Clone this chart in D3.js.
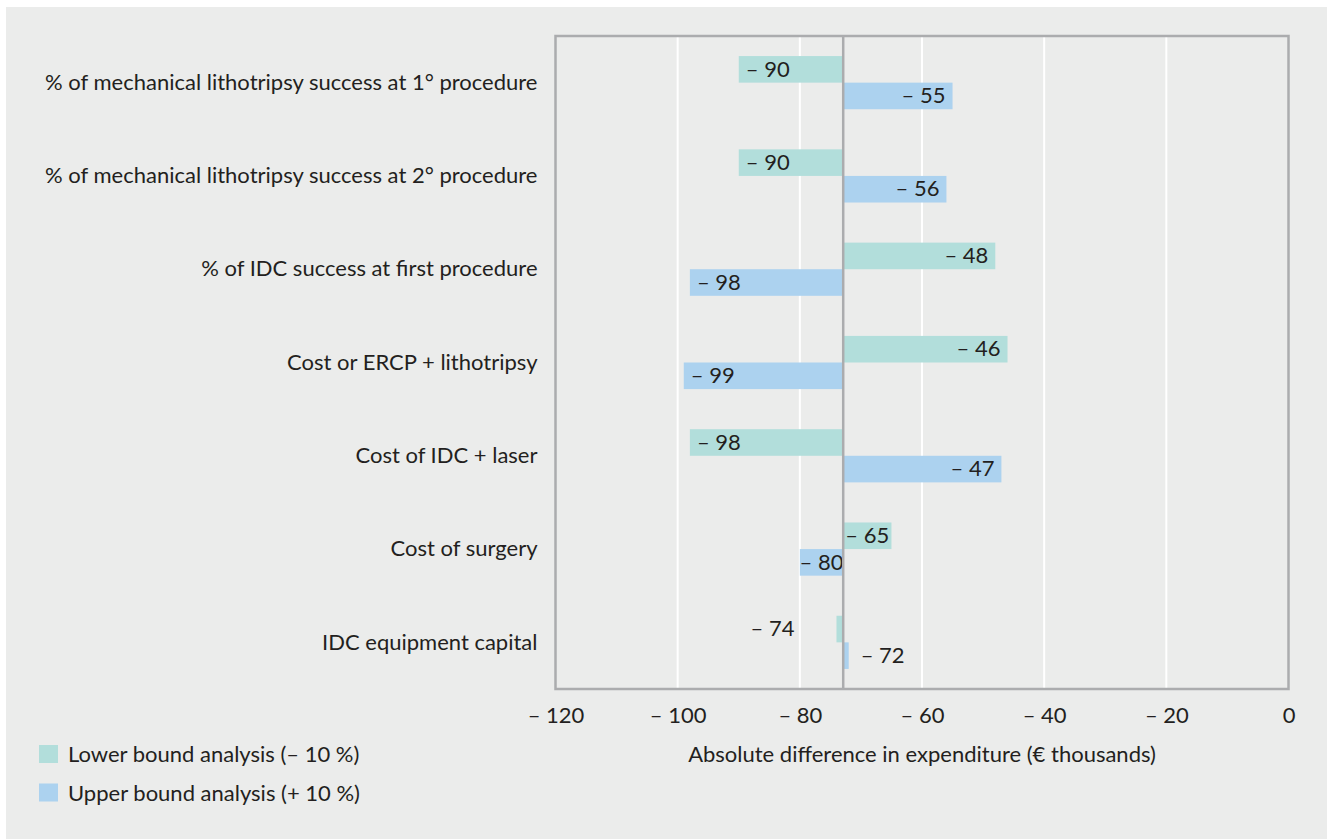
<!DOCTYPE html>
<html>
<head>
<meta charset="utf-8">
<script src="https://cdn.jsdelivr.net/npm/d3@7"></script>
<style>
  html, body { margin: 0; padding: 0; background: #ffffff; }
  svg { display: block; }
  text { font-family: "Lato", "Liberation Sans", sans-serif; fill: #231f20; }
</style>
</head>
<body>
<svg id="chart" width="1327" height="839"></svg>
<script>
// Sensitivity analysis: absolute difference in expenditure (€ thousands)
const categories = [
  "% of mechanical lithotripsy success at 1° procedure",
  "% of mechanical lithotripsy success at 2° procedure",
  "% of IDC success at first procedure",
  "Cost or ERCP + lithotripsy",
  "Cost of IDC + laser",
  "Cost of surgery",
  "IDC equipment capital"
];
const lowerBound = [-90, -90, -48, -46, -98, -65, -74];
const upperBound = [-55, -56, -98, -99, -47, -80, -72];
const baseCase = -72.9;
const xTicks = [-120, -100, -80, -60, -40, -20, 0];
const gridTicks = [-100, -80, -60, -40, -20];
const seriesNames = ["Lower bound analysis (\u2013 10 %)", "Upper bound analysis (+ 10 %)"];
const seriesColors = ["#b2dedb", "#acd2ef"];

const svg = d3.select("#chart");
const W = 1327, H = 839;
const frame = { left: 555.5, right: 1288.5, top: 36, bottom: 689 };
const fontSize = 22;

// background panel
svg.append("rect")
  .attr("x", 6).attr("y", 7)
  .attr("width", W - 6).attr("height", H - 7)
  .attr("fill", "#ebeceb");

const x = d3.scaleLinear().domain([-120, 0]).range([frame.left, frame.right]);
const y = d3.scaleBand().domain(categories).range([frame.top, frame.bottom]).padding(0);
const barH = 26.6;

const fmt = v => v < 0 ? "\u2013 " + Math.abs(v) : String(v);

// vertical grid lines
svg.append("g").selectAll("line").data(gridTicks).join("line")
  .attr("x1", d => x(d)).attr("x2", d => x(d))
  .attr("y1", frame.top).attr("y2", frame.bottom)
  .attr("stroke", "#ffffff").attr("stroke-width", 2);

// bars
const rows = categories.map((c, i) => ({ cat: c, lower: lowerBound[i], upper: upperBound[i] }));
const bars = [];
rows.forEach(r => {
  bars.push({ cat: r.cat, v: r.lower, s: 0 });
  bars.push({ cat: r.cat, v: r.upper, s: 1 });
});
const cy = d => y(d.cat) + y.bandwidth() / 2;
const barY = d => d.s === 0 ? cy(d) - barH : cy(d);

svg.append("g").selectAll("rect").data(bars).join("rect")
  .attr("x", d => Math.min(x(d.v), x(baseCase)))
  .attr("y", barY)
  .attr("width", d => Math.abs(x(d.v) - x(baseCase)))
  .attr("height", barH)
  .attr("fill", d => seriesColors[d.s]);

// value labels, placed at the outer end of each bar
const labels = svg.append("g").selectAll("text").data(bars).join("text")
  .attr("font-size", fontSize)
  .attr("y", d => barY(d) + barH / 2)
  .attr("dy", "0.33em")
  .text(d => fmt(d.v));

labels.each(function(d) {
  const t = d3.select(this);
  const tw = this.getComputedTextLength();
  const x0 = x(baseCase), x1 = x(d.v);
  const w = Math.abs(x1 - x0);
  const leftward = x1 < x0;
  if (w >= tw + 2) {
    const inset = Math.min(7, (w - tw) / 2);
    if (leftward) t.attr("x", x1 + inset).attr("text-anchor", "start");
    else t.attr("x", x1 - inset).attr("text-anchor", "end");
  } else if (w >= tw - 8) {
    t.attr("x", (x0 + x1) / 2).attr("text-anchor", "middle");
  } else {
    const gap = d.s === 0 ? 42 : 12;
    if (leftward) t.attr("x", x1 - gap).attr("text-anchor", "end");
    else t.attr("x", x1 + gap).attr("text-anchor", "start");
  }
});

// frame
svg.append("rect")
  .attr("x", frame.left).attr("y", frame.top)
  .attr("width", frame.right - frame.left).attr("height", frame.bottom - frame.top)
  .attr("fill", "none").attr("stroke", "#abacae").attr("stroke-width", 2.5);

// base-case line
svg.append("line")
  .attr("x1", x(baseCase)).attr("x2", x(baseCase))
  .attr("y1", frame.top).attr("y2", frame.bottom)
  .attr("stroke", "#abacae").attr("stroke-width", 2.5);

// category labels
svg.append("g").selectAll("text").data(categories).join("text")
  .attr("x", frame.left - 18)
  .attr("y", d => y(d) + y.bandwidth() / 2)
  .attr("dy", "0.33em")
  .attr("text-anchor", "end")
  .attr("font-size", fontSize)
  .text(d => d);

// x axis
const xAxis = d3.axisBottom(x).tickValues(xTicks).tickSize(0).tickPadding(0).tickFormat(fmt);
const gx = svg.append("g").attr("transform", `translate(0,${frame.bottom})`).call(xAxis);
gx.select(".domain").remove();
gx.selectAll("text")
  .attr("font-size", fontSize)
  .attr("font-family", null)
  .attr("fill", "#231f20")
  .attr("y", 34).attr("dy", 0);

svg.append("text")
  .attr("x", (frame.left + frame.right) / 2)
  .attr("y", 762)
  .attr("text-anchor", "middle")
  .attr("font-size", fontSize)
  .text("Absolute difference in expenditure (\u20ac thousands)");

// legend
const legend = svg.append("g").selectAll("g").data(seriesNames).join("g")
  .attr("transform", (d, i) => `translate(39,${745 + i * 38.5})`);
legend.append("rect")
  .attr("width", 19).attr("height", 18)
  .attr("fill", (d, i) => seriesColors[i]);
legend.append("text")
  .attr("x", 29).attr("y", 17)
  .attr("font-size", fontSize)
  .text(d => d);
</script>
</body>
</html>
